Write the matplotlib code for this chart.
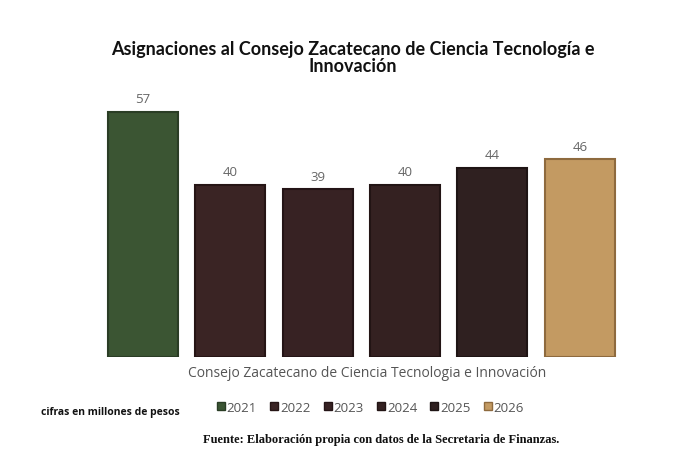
import matplotlib
matplotlib.use("Agg")
import matplotlib.pyplot as plt
from matplotlib.patches import Patch

years = ["2021", "2022", "2023", "2024", "2025", "2026"]
values = [57, 40, 39, 40, 44, 46]
colors = ["#3b5533", "#3a2424", "#372223", "#342121", "#2f2020", "#c39a62"]
edges = ["#2a3d25", "#261515", "#241416", "#221414", "#1e1414", "#8e6a3e"]
category = "Consejo Zacatecano de Ciencia Tecnologia e Innovación"
title = "Asignaciones al Consejo Zacatecano de Ciencia Tecnología e\nInnovación"
units = "cifras en millones de pesos"
source = "Fuente: Elaboración propia con datos de la Secretaria de Finanzas."

fig = plt.figure(figsize=(6.99, 4.56), dpi=100)
ax = fig.add_axes([0.142, 0.215, 0.75, 0.565])
x = list(range(len(years)))
bars = ax.bar(x, values, width=0.8, color=colors, edgecolor=edges, linewidth=1.5)
for xi, v in zip(x, values):
    ax.text(xi, v + 1.6, str(v), ha="center", va="bottom", fontsize=9.5,
            color="#666666", family="Open Sans")
ax.set_xlim(-0.5, 5.5)
ax.set_ylim(0, 60)
ax.axis("off")

fig.text(0.505, 0.873, title, ha="center", va="center", fontsize=13,
         fontweight="bold", family="Lato", color="#111111", linespacing=1.05)
fig.text(0.525, 0.182, category, ha="center", va="center", fontsize=10,
         color="#555555", family="Open Sans")
handles = [Patch(facecolor=c, edgecolor=e) for c, e in zip(colors, edges)]
leg = fig.legend(handles, years, loc="center", bbox_to_anchor=(0.53, 0.105), ncol=6,
           frameon=False, handlelength=0.6, handleheight=0.6,
           handletextpad=0.15, columnspacing=1.0,
           prop={"family": "Open Sans", "size": 9.5})
for t in leg.get_texts():
    t.set_color("#555555")
fig.text(0.058, 0.095, units, ha="left", va="center", fontsize=7.5,
         fontweight="bold", family="Open Sans", color="#111111")
fig.text(0.545, 0.035, source, ha="center", va="center", fontsize=9,
         fontweight="bold", family="Liberation Serif", color="#111111")

fig.savefig("out.png", dpi=100)
